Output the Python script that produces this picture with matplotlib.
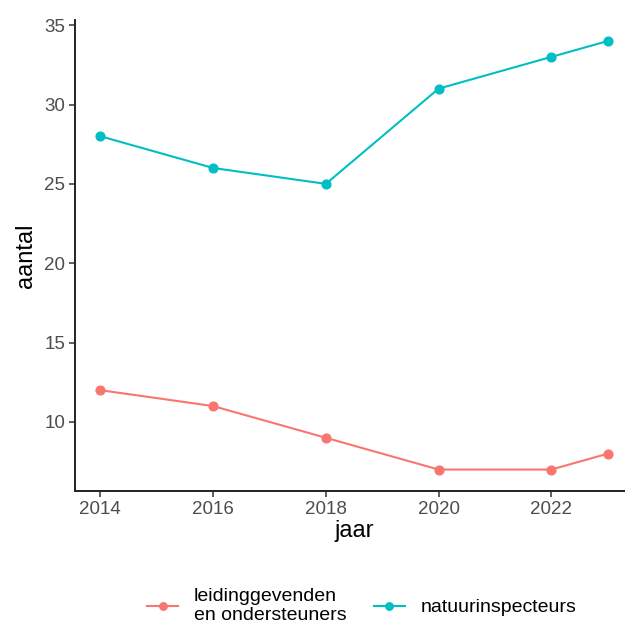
import matplotlib.pyplot as plt

plt.rcParams['font.family'] = ['Liberation Sans', 'DejaVu Sans']

jaar = [2014, 2016, 2018, 2020, 2022, 2023]
leiding = [12, 11, 9, 7, 7, 8]
natuur = [28, 26, 25, 31, 33, 34]
labels = ['leidinggevenden\nen ondersteuners', 'natuurinspecteurs']
colors = ['#F8766D', '#00BFC4']

x_ticks = [2014, 2016, 2018, 2020, 2022]
y_ticks = [10, 15, 20, 25, 30, 35]


def main():
  fig = plt.figure(figsize=(6.25, 6.26), dpi=100)
  ax = fig.add_axes([0.12, 0.2157, 0.893, 0.753])

  for vals, lab, col in zip([leiding, natuur], labels, colors):
    ax.plot(jaar, vals, color=col, lw=1.5, marker='o', ms=6.3, label=lab)

  lo = min(leiding + natuur)
  hi = max(leiding + natuur)
  pad = (hi - lo) * 0.05
  ax.set_ylim(lo - pad, hi + pad)
  xpad = (jaar[-1] - jaar[0]) * 0.05
  ax.set_xlim(jaar[0] - xpad, jaar[-1] + xpad)

  ax.set_xticks(x_ticks)
  ax.set_yticks(y_ticks)
  ax.tick_params(labelsize=13.5, labelcolor='#4D4D4D', color='#333333',
                 length=4, width=1.1, pad=3)
  for s in ['top', 'right']:
    ax.spines[s].set_visible(False)
  for s in ['left', 'bottom']:
    ax.spines[s].set_linewidth(1.4)
    ax.spines[s].set_color('#222222')

  ax.set_xlabel('jaar', fontsize=17, labelpad=2)
  ax.set_ylabel('aantal', fontsize=17, labelpad=5)

  fig.legend(loc='center', bbox_to_anchor=(0.579, 0.032), ncol=2,
             frameon=False, fontsize=14, handlelength=1.6,
             columnspacing=1.4, handletextpad=0.8, markerscale=0.85,
             labelspacing=0.1)

  fig.savefig('out.png', dpi=100)


if __name__ == '__main__':
  main()
